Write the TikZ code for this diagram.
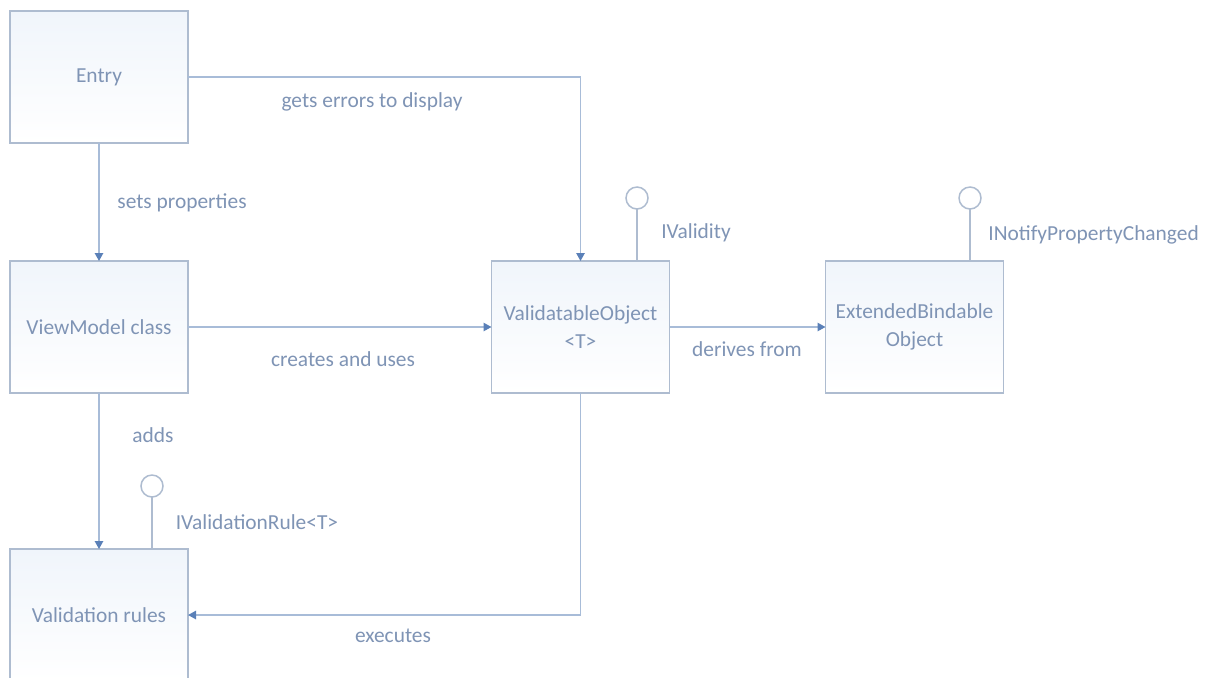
\documentclass[tikz,border=0pt]{standalone}
\usepackage{fontspec}
\setmainfont{Carlito}
\usetikzlibrary{arrows.meta,calc}
\definecolor{boxline}{HTML}{AEBCD0}
\definecolor{boxtop}{HTML}{F0F5FB}
\definecolor{txt}{HTML}{7F94B5}
\definecolor{conn}{HTML}{A8BCD8}
\definecolor{tip}{HTML}{5A80B8}
\tikzset{
  umlbox/.style={draw=boxline, line width=0.8pt, top color=boxtop, bottom color=white,
    minimum width=89pt, minimum height=66pt, inner sep=0pt, outer sep=0pt,
    text=txt, font=\fontsize{10.7pt}{13pt}\selectfont, align=center},
  conline/.style={draw=conn, line width=0.75pt, -{Triangle[length=4pt,width=4.2pt,color=tip]}},
  lolline/.style={draw=boxline, line width=0.75pt},
  lolli/.style={circle, draw=boxline, line width=0.75pt, fill=white, minimum size=11pt, inner sep=0pt, outer sep=0pt},
  lbl/.style={text=txt, font=\fontsize{10.7pt}{13pt}\selectfont, inner sep=0pt}
}
\begin{document}
\begin{tikzpicture}[x=0.5pt,y=-0.5pt]
\clip (0,0) rectangle (1208,677);
\fill[white] (0,0) rectangle (1208,677);
% boxes
\node[umlbox] (entry) at (99,77) {Entry};
\node[umlbox] (vm) at (99,327) {ViewModel class};
\node[umlbox] (rules) at (99,615) {Validation rules};
\node[umlbox] (vo) at (580.5,327) {ValidatableObject\\[1pt]<T>};
\node[umlbox] (ebo) at (914.5,327) {ExtendedBindable\\[1pt]Object};
% lollipops
\node[lolli] (ivalidity) at (637,198) {};
\node[lolli] (inpc) at (970,198) {};
\node[lolli] (ivr) at (152,486) {};
\draw[lolline] (ivalidity.south) -- (ivalidity.south |- vo.north);
\draw[lolline] (inpc.south) -- (inpc.south |- ebo.north);
\draw[lolline] (ivr.south) -- (ivr.south |- rules.north);
% connectors
\draw[conline] (entry.east) -| (vo.north);
\draw[conline] (entry.south) -- (vm.north);
\draw[conline] (vm.east) -- (vo.west);
\draw[conline] (vo.east) -- (ebo.west);
\draw[conline] (vm.south) -- (rules.north);
\draw[conline] (vo.south) |- (rules.east);
% labels
\node[lbl] (l1) at (372,102) {gets errors to display};
\node[lbl] (l2) at (182,203) {sets properties};
\node[lbl] (l3) at (696,233) {IValidity};
\node[lbl, anchor=west] (l4) at (988,235) {INotifyPropertyChanged};
\node[lbl] (l5) at (343,359) {creates and uses};
\node[lbl] (l6) at (747,349) {derives from};
\node[lbl] (l7) at (153,435) {adds};
\node[lbl] (l8) at (257,522) {IValidationRule<T>};
\node[lbl] (l9) at (393,636) {executes};
\end{tikzpicture}
\end{document}
